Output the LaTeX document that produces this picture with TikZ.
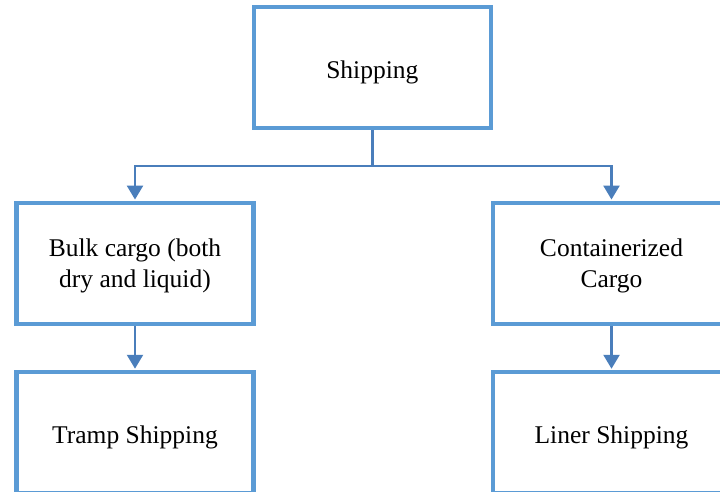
\documentclass[tikz,border=0pt]{standalone}
\usepackage{fontspec}
\setmainfont{Liberation Serif}
\usetikzlibrary{arrows.meta}
\definecolor{boxblue}{RGB}{91,155,213}
\definecolor{linkblue}{RGB}{74,126,187}
\begin{document}
\begin{tikzpicture}[x=1pt,y=1pt,
  box/.style={draw=boxblue, line width=4.5pt, fill=white, rectangle,
    minimum width=237pt, minimum height=121pt, inner sep=0pt,
    align=center, font=\fontsize{25.5}{31}\selectfont},
  oneline/.style={text height=21pt, text depth=0pt},
  twoline/.style={text depth=0pt},
  conn/.style={draw=linkblue, line width=2.5pt},
  arr/.style={conn, -{Triangle[width=16pt,length=14pt]}, shorten >=1pt}]
\useasboundingbox (0,0) rectangle (720,-492);
\clip (0,0) rectangle (720,-492);
\node[box, oneline] (ship) at (372.3,-67.7) {Shipping};
\node[box, twoline] (bulk) at (135,-263.3) {Bulk cargo (both\\dry and liquid)};
\node[box, twoline] (cont) at (611.5,-263.3) {Containerized\\Cargo};
\node[box, oneline] (tramp) at (135,-432.5) {Tramp Shipping};
\node[box, oneline] (liner) at (611.5,-432.5) {Liner Shipping};
\coordinate (j) at (372.3,-166);
\coordinate (jl) at (bulk.north |- j);
\coordinate (jr) at (cont.north |- j);
\draw[conn] (ship.south) -- (j);
\draw[conn, line cap=rect] (jl) -- (jr);
\draw[arr] (jl) -- (bulk.north);
\draw[arr] (jr) -- (cont.north);
\draw[arr] (bulk.south) -- (tramp.north);
\draw[arr] (cont.south) -- (liner.north);
\end{tikzpicture}
\end{document}
